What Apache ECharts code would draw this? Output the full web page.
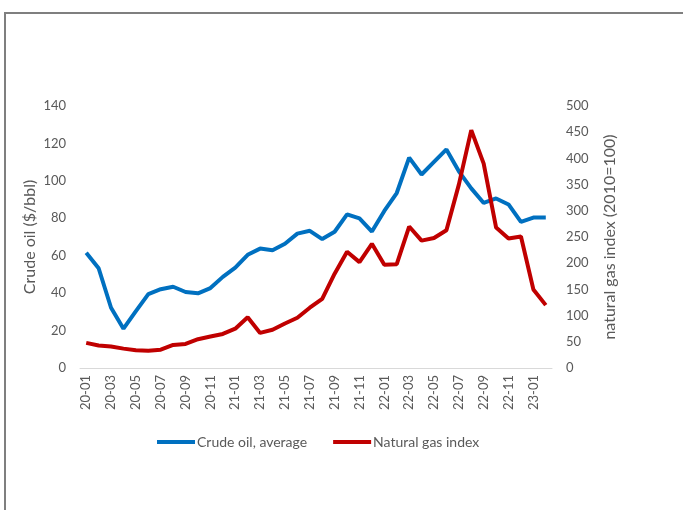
<!DOCTYPE html>
<html>
<head>
<meta charset="utf-8">
<script src="https://cdn.jsdelivr.net/npm/echarts@6/dist/echarts.min.js"></script>
<style>
  html, body { margin: 0; padding: 0; background: #fff; }
  #frame {
    position: absolute; left: 4px; top: 12px; width: 679px; height: 498px;
    border-left: 2px solid #7f7f7f; border-top: 2px solid #7f7f7f;
    box-sizing: border-box;
  }
  #chart { position: absolute; left: 0; top: 0; width: 683px; height: 510px; }
</style>
</head>
<body>
<div id="frame"></div>
<div id="chart"></div>
<script>
// monthly, 2020-01 .. 2023-02
const months = [
  '20-01', '20-02', '20-03', '20-04', '20-05', '20-06', '20-07', '20-08', '20-09', '20-10', '20-11', '20-12',
  '21-01', '21-02', '21-03', '21-04', '21-05', '21-06', '21-07', '21-08', '21-09', '21-10', '21-11', '21-12',
  '22-01', '22-02', '22-03', '22-04', '22-05', '22-06', '22-07', '22-08', '22-09', '22-10', '22-11', '22-12',
  '23-01', '23-02'
]

// Crude oil, average ($/bbl)
const crudeOil = [
  61.6, 53.3, 32.2, 21.0, 30.4, 39.5, 42.1, 43.4, 40.6, 39.9, 42.7, 48.7,
  53.6, 60.5, 63.8, 62.9, 66.4, 71.8, 73.3, 68.9, 72.8, 82.1, 79.9, 72.9,
  83.9, 93.5, 112.4, 103.4, 110.1, 116.8, 105.1, 96.0, 88.2, 90.6, 87.4, 78.1,
  80.4, 80.4
]

// Natural gas index (2010=100)
const natGas = [
  48, 43, 41, 37, 34, 33, 35, 44, 46, 55, 60, 65,
  75, 97, 67, 73, 85, 96, 115, 132, 180, 222, 202, 237,
  197, 198, 270, 243, 248, 263, 350, 454, 390, 268, 247, 251,
  150, 120
]

const leftTicks = { min: 0, max: 140, interval: 20 }
const rightTicks = { min: 0, max: 500, interval: 50 }

const font = 'Lato, "Open Sans", sans-serif'
const grey = '#595959'

const chart = echarts.init(document.getElementById('chart'))

chart.setOption({
  animation: false,
  textStyle: { fontFamily: font },
  grid: { left: 80, right: 131, top: 106, bottom: 142, containLabel: false },
  legend: {
    bottom: 56,
    left: 152,
    itemWidth: 38,
    itemHeight: 4,
    itemGap: 26,
    icon: 'rect',
    textStyle: { color: grey, fontSize: 14, fontFamily: font, padding: [0, 0, 0, -3] },
    data: ['Crude oil, average', 'Natural gas index']
  },
  xAxis: {
    type: 'category',
    data: months,
    boundaryGap: true,
    axisLine: { lineStyle: { color: '#d9d9d9', width: 1 } },
    axisTick: { show: false },
    axisLabel: { interval: 1, rotate: 90, color: grey, fontSize: 13, margin: 7 }
  },
  yAxis: [
    {
      type: 'value',
      min: leftTicks.min, max: leftTicks.max, interval: leftTicks.interval,
      name: 'Crude oil ($/bbl)',
      nameLocation: 'middle',
      nameGap: 42,
      nameMoveOverlap: false,
      nameRotate: 90,
      nameTextStyle: { color: grey, fontSize: 16 },
      axisLine: { show: false },
      axisTick: { show: false },
      splitLine: { show: false },
      axisLabel: { color: grey, fontSize: 13, margin: 14 }
    },
    {
      type: 'value',
      min: rightTicks.min, max: rightTicks.max, interval: rightTicks.interval,
      name: 'natural gas index (2010=100)',
      nameLocation: 'middle',
      nameGap: 50,
      nameRotate: 90,
      nameTextStyle: { color: grey, fontSize: 16 },
      axisLine: { show: false },
      axisTick: { show: false },
      splitLine: { show: false },
      axisLabel: { color: grey, fontSize: 13, margin: 14 }
    }
  ],
  series: [
    {
      name: 'Crude oil, average',
      type: 'line',
      yAxisIndex: 0,
      data: crudeOil,
      symbol: 'none',
      itemStyle: { color: '#0070c0' },
      lineStyle: { color: '#0070c0', width: 4 }
    },
    {
      name: 'Natural gas index',
      type: 'line',
      yAxisIndex: 1,
      data: natGas,
      symbol: 'none',
      itemStyle: { color: '#c00000' },
      lineStyle: { color: '#c00000', width: 4 }
    }
  ]
})
</script>
</body>
</html>
